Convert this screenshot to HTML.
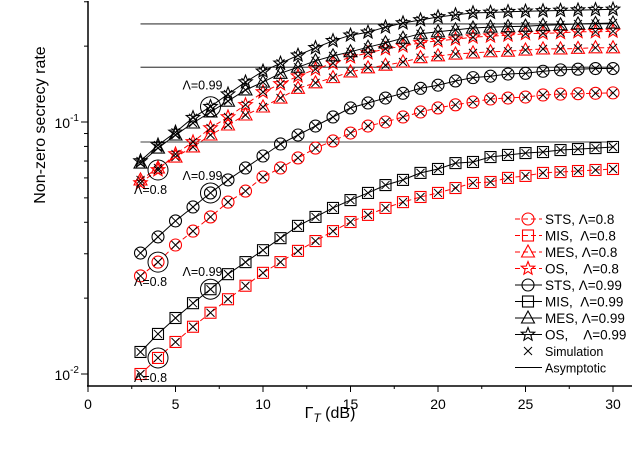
<!DOCTYPE html>
<html><head><meta charset="utf-8"><style>
html,body{margin:0;padding:0;background:#fff;}
svg{display:block;font-family:"Liberation Sans",Arial,sans-serif;}
</style></head><body>
<svg id="chart" width="632" height="464" viewBox="0 0 632 464" xmlns="http://www.w3.org/2000/svg">
<g id="axes"></g>
<g id="asym"></g>
<g id="series"></g>
<g id="annot"></g>
<g id="legend"></g>
<text x="45" y="125" transform="rotate(-90 45 125)" text-anchor="middle" font-size="16">Non-zero secrecy rate</text>
<text x="330" y="418" text-anchor="middle" font-size="16">Γ<tspan font-size="12" dy="4" font-style="italic">T</tspan><tspan dy="-4"> (dB)</tspan></text>
</svg>
<script>
const xs = [3,4,5,6,7,8,9,10,11,12,13,14,15,16,17,18,19,20,21,22,23,24,25,26,27,28,29,30];
const osHigh = [0.070,0.081,0.091,0.104,0.115,0.129,0.144,0.159,0.171,0.184,0.197,0.210,0.221,0.227,0.238,0.247,0.254,0.261,0.266,0.271,0.272,0.274,0.275,0.276,0.277,0.278,0.279,0.280];
const mesHigh = [0.0687,0.0788,0.0888,0.0991,0.1096,0.121,0.134,0.144,0.156,0.165,0.175,0.183,0.190,0.198,0.206,0.215,0.224,0.228,0.232,0.236,0.238,0.239,0.240,0.242,0.243,0.245,0.246,0.247];
const osLow = [0.0573,0.0645,0.0746,0.0833,0.0947,0.1047,0.117,0.1315,0.1415,0.152,0.162,0.171,0.181,0.188,0.195,0.200,0.206,0.210,0.213,0.217,0.219,0.221,0.224,0.225,0.226,0.228,0.228,0.229];
const mesLow = [0.0589,0.0657,0.0726,0.0796,0.0888,0.0973,0.1066,0.1147,0.1245,0.136,0.143,0.150,0.158,0.164,0.168,0.173,0.180,0.183,0.186,0.188,0.190,0.191,0.193,0.195,0.195,0.196,0.197,0.197];
const stsHigh = [0.0302,0.0350,0.0405,0.0460,0.0523,0.0589,0.0657,0.0733,0.0818,0.0888,0.0964,0.1047,0.1137,0.119,0.1245,0.130,0.136,0.140,0.1455,0.150,0.152,0.155,0.156,0.159,0.161,0.162,0.163,0.163];
const stsLow = [0.0245,0.0278,0.0325,0.0369,0.0420,0.0481,0.0532,0.0605,0.0657,0.0720,0.0788,0.0841,0.0904,0.0964,0.100,0.1047,0.1096,0.1137,0.117,0.120,0.1234,0.1245,0.1256,0.128,0.129,0.1295,0.130,0.1305];
const misHigh = [0.01223,0.01442,0.01668,0.0191,0.0217,0.0249,0.0278,0.0310,0.0346,0.0387,0.0420,0.0456,0.0490,0.0523,0.0562,0.0589,0.0628,0.0651,0.0687,0.0694,0.0726,0.0740,0.0753,0.0760,0.0774,0.0781,0.0788,0.0796];
const misLow = [0.0100,0.01158,0.0134,0.0154,0.0175,0.0198,0.0224,0.0252,0.0278,0.0308,0.0337,0.0369,0.0401,0.0428,0.0456,0.0481,0.0504,0.0523,0.0547,0.0573,0.0578,0.0600,0.0611,0.0628,0.0633,0.0639,0.0645,0.0651];
const asymValues = [0.245,0.165,0.0833];
const xTicks = [0,5,10,15,20,25,30];

const NS = "http://www.w3.org/2000/svg";
function X(v){ return 88 + 17.5*v; }
function Y(v){ return 122 - 252*(Math.log10(v)+1); }
function mk(tag, attrs, parent){
  const e = document.createElementNS(NS, tag);
  for (const k in attrs) e.setAttribute(k, attrs[k]);
  parent.appendChild(e); return e;
}
const axes = document.getElementById('axes');
let l = mk('line',{x1:88,y1:1,x2:88,y2:386,stroke:'#000','stroke-width':1.5},axes);


l = mk('line',{x1:87,y1:386,x2:632,y2:386,stroke:'#000','stroke-width':1.5},axes);


xTicks.forEach(t=>{
  const tk = mk('line',{x1:X(t),y1:386,x2:X(t),y2:392,stroke:'#000','stroke-width':1},axes);
  
  
  const tx = mk('text',{x:X(t),y:409,'text-anchor':'middle','font-size':14},axes);
  tx.textContent = t;
  
  
  if (t<30){
    const mn = mk('line',{x1:X(t+2.5),y1:386,x2:X(t+2.5),y2:389,stroke:'#000','stroke-width':1},axes);
    
    
  }
});
[-2,-1].forEach(p=>{
  const y = Y(Math.pow(10,p));
  const tk = mk('line',{x1:81,y1:y,x2:88,y2:y,stroke:'#000','stroke-width':1},axes);
  
  
  const tx = mk('text',{x:79,y:y+6,'text-anchor':'end','font-size':14},axes);
  tx.innerHTML = '10<tspan dy="-7" font-size="10">'+p+'</tspan>';
  
  
  for (let m=2;m<=9;m++){
    const v = m*Math.pow(10,p);
    const yy = Y(v);
    if (yy<1) continue;
    const mn = mk('line',{x1:84,y1:yy,x2:88,y2:yy,stroke:'#000','stroke-width':1},axes);
    
    
  }
});
const asymG = document.getElementById('asym');
asymValues.forEach(v=>{
  const a = mk('line',{x1:X(3),y1:Y(v),x2:X(30),y2:Y(v),stroke:'#000','stroke-width':0.8},asymG);
  
  
});
function marker(g, shape, cx, cy, col){
  let m;
  if (shape==='circle') m = mk('circle',{cx:cx,cy:cy,r:6,fill:'none',stroke:col,'stroke-width':1.1},g);
  else if (shape==='square') m = mk('rect',{x:cx-5.5,y:cy-5.5,width:11,height:11,fill:'none',stroke:col,'stroke-width':1.1},g);
  else if (shape==='tri') m = mk('polygon',{points:`${cx},${cy-7} ${cx-6.5},${cy+5} ${cx+6.5},${cy+5}`,fill:'none',stroke:col,'stroke-width':1.1},g);
  else {
    let pts=[];
    for(let i=0;i<10;i++){const r=i%2?3:7;const a=-Math.PI/2+i*Math.PI/5;pts.push((cx+r*Math.cos(a)).toFixed(1)+','+(cy+r*Math.sin(a)).toFixed(1));}
    m = mk('polygon',{points:pts.join(' '),fill:'none',stroke:col,'stroke-width':1.1},g);
  }
  return m;
}
function cross(g,cx,cy){
  return mk('path',{d:`M${cx-4},${cy-4}L${cx+4},${cy+4}M${cx+4},${cy-4}L${cx-4},${cy+4}`,stroke:'#000','stroke-width':1},g);
}
const seriesG = document.getElementById('series');
const seriesDefs = [
  {vals:misLow, shape:'square', col:'#f00', dash:true, name:'mis-0.8'},
  {vals:stsLow, shape:'circle', col:'#f00', dash:true, name:'sts-0.8'},
  {vals:mesLow, shape:'tri', col:'#f00', dash:true, name:'mes-0.8'},
  {vals:osLow, shape:'star', col:'#f00', dash:true, name:'os-0.8'},
  {vals:misHigh, shape:'square', col:'#000', dash:false, name:'mis-0.99'},
  {vals:stsHigh, shape:'circle', col:'#000', dash:false, name:'sts-0.99'},
  {vals:mesHigh, shape:'tri', col:'#000', dash:false, name:'mes-0.99'},
  {vals:osHigh, shape:'star', col:'#000', dash:false, name:'os-0.99'}
];
seriesDefs.forEach(s=>{
  const g = mk('g',{},seriesG);
  
  
  const d = s.vals.map((v,i)=>(i?'L':'M')+X(xs[i]).toFixed(1)+','+Y(v).toFixed(1)).join('');
  const p = mk('path',{d:d,fill:'none',stroke:s.col,'stroke-width':1,'stroke-dasharray':s.dash?'5,3':'none'},g);
  
  
  s.vals.forEach((v,i)=>{
    const m = marker(g,s.shape,X(xs[i]),Y(v),s.col);
    
    
    const c = cross(g,X(xs[i]),Y(v));
    
    
  });
});
const annG = document.getElementById('annot');
const annots = [
  {vals:osHigh, i:4, label:'Λ=0.99', dx:-28, dy:-17},
  {vals:osLow, i:1, label:'Λ=0.8', dx:-24, dy:24},
  {vals:stsHigh, i:4, label:'Λ=0.99', dx:-28, dy:-13},
  {vals:stsLow, i:1, label:'Λ=0.8', dx:-24, dy:24},
  {vals:misHigh, i:4, label:'Λ=0.99', dx:-28, dy:-13},
  {vals:misLow, i:1, label:'Λ=0.8', dx:-24, dy:24}
];
annots.forEach(a=>{
  const cx = X(xs[a.i]), cy = Y(a.vals[a.i]);
  const c = mk('circle',{cx:cx,cy:cy,r:10,fill:'none',stroke:'#000','stroke-width':1},annG);
  
  
  const t = mk('text',{x:cx+a.dx,y:cy+a.dy,'font-size':12.5},annG);
  t.textContent = a.label;
  
  
});
const legG = document.getElementById('legend');
const legItems = [
  {shape:'circle',col:'#f00',dash:true,label:'STS, Λ=0.8'},
  {shape:'square',col:'#f00',dash:true,label:'MIS,  Λ=0.8'},
  {shape:'tri',col:'#f00',dash:true,label:'MES, Λ=0.8'},
  {shape:'star',col:'#f00',dash:true,label:'OS,    Λ=0.8'},
  {shape:'circle',col:'#000',dash:false,label:'STS, Λ=0.99'},
  {shape:'square',col:'#000',dash:false,label:'MIS,  Λ=0.99'},
  {shape:'tri',col:'#000',dash:false,label:'MES, Λ=0.99'},
  {shape:'star',col:'#000',dash:false,label:'OS,    Λ=0.99'},
  {shape:'x',col:'#000',dash:false,label:'Simulation'},
  {shape:'line',col:'#000',dash:false,label:'Asymptotic'}
];
legItems.forEach((it,k)=>{
  const y = 219 + k*16.5;
  const g = mk('g',{},legG);
  
  
  if (it.shape==='x'){ cross(g,528,y); }
  else {
    mk('line',{x1:515,y1:y,x2:542,y2:y,stroke:it.col,'stroke-width':1,'stroke-dasharray':it.dash?'5,3':'none'},g);
    if (it.shape!=='line') marker(g,it.shape,528,y,it.col);
  }
  const t = mk('text',{x:545,y:y+5,'font-size':it.shape==='x'||it.shape==='line'?12.5:13.5},g);
  t.textContent = it.label;
  t.style.whiteSpace='pre';
});
</script>
</body></html>
